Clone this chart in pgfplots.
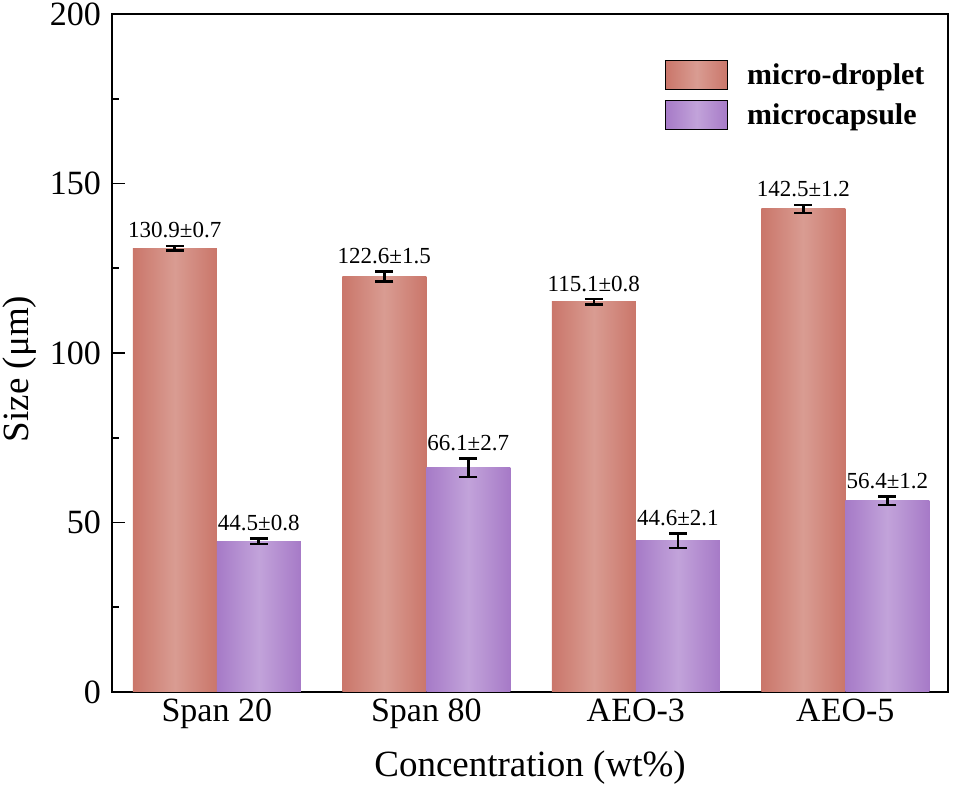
\documentclass[border=0pt]{standalone}
\usepackage{pgfplots}
\pgfplotsset{compat=1.18}
\usepackage{pgfplotstable}
\usepackage{fontspec}
\setmainfont{Liberation Serif}

\definecolor{salE}{RGB}{202,118,106}
\definecolor{salM}{RGB}{217,156,146}
\definecolor{purE}{RGB}{166,122,199}
\definecolor{purM}{RGB}{194,163,218}

% size (um) with standard deviation
\pgfplotstableread{
x y err lab
1 130.9 0.7 130.9±0.7
2 122.6 1.5 122.6±1.5
3 115.1 0.8 115.1±0.8
4 142.5 1.2 142.5±1.2
}\droplet
\pgfplotstableread{
x y err lab
1 44.5 0.8 44.5±0.8
2 66.1 2.7 66.1±2.7
3 44.6 2.1 44.6±2.1
4 56.4 1.2 56.4±1.2
}\capsule

\pgfplotsset{
  errbars/.style={error bars/.cd, y dir=both, y explicit,
    error bar style={draw=black, line width=1.3pt, shade=false},
    error mark options={draw=black, rotate=90, mark size=4.5pt, line width=1.3pt, shade=false},
    /pgfplots/.cd},
  dropbar/.style={draw=none, left color=salE, right color=salE, middle color=salM, bar shift=-21pt},
  capbar/.style={draw=none, left color=purE, right color=purE, middle color=purM, bar shift=21pt},
}

\begin{document}
\begin{tikzpicture}
\useasboundingbox (-56pt,-48pt) rectangle (421.5pt,346pt);
\begin{axis}[
    scale only axis,
    width=418pt, height=339pt,
    ybar, bar width=42pt,
    xmin=0.5, xmax=4.49,
    ymin=0, ymax=200,
    xtick={1,2,3,4},
    xticklabels={Span 20, Span 80, AEO-3, AEO-5},
    x tick style={draw=none},
    ytick={0,50,100,150,200},
    minor y tick num=1,
    ytick pos=left,
    tick align=inside,
    major tick length=6.5pt, minor tick length=3.5pt,
    axis line style={line width=1.1pt},
    y tick style={line width=0.9pt, black},
    /pgf/number format/assume math mode=true,
    tick label style={font=\fontsize{17}{20}\selectfont},
    yticklabel style={xshift=-2pt},
    xlabel={Concentration (wt\%)},
    ylabel={Size (μm)},
    xlabel style={font=\fontsize{18.5}{22}\selectfont, yshift=-4pt},
    ylabel style={font=\fontsize{18.5}{22}\selectfont, at={(rel axis cs:0,0.5)},
        anchor=center, yshift=46pt, xshift=-8pt},
    point meta=explicit symbolic,
    nodes near coords,
    visualization depends on={\thisrow{err} \as \myerr},
    every node near coord/.append style={shade=false, black, anchor=base,
        font=\fontsize{11.5}{13}\selectfont, yshift=\myerr*1.695pt+4pt},
    legend style={at={(rel axis cs:0.6543,0.938)}, anchor=north west, draw=none, fill=none,
        font=\fontsize{15}{18}\selectfont\bfseries, row sep=5pt,
        nodes={inner sep=0pt}, /tikz/every odd column/.append style={column sep=9.5pt}},
    legend cell align=left,
]
% one plot per bar so that each bar gets its own shading
\pgfplotsinvokeforeach{1,...,4}{
  \addplot[dropbar, forget plot, x filter/.expression={abs(x-#1)<0.1 ? x : nan}, errbars]
    table[x=x, y=y, y error=err, meta=lab] {\droplet};
  \addplot[capbar, forget plot, x filter/.expression={abs(x-#1)<0.1 ? x : nan}, errbars]
    table[x=x, y=y, y error=err, meta=lab] {\capsule};
}
\addlegendimage{legend image code/.code={\fill[left color=salE, right color=salE, middle color=salM] (0pt,-7.25pt) rectangle (31pt,7.25pt);}}
\addlegendentry{micro-droplet}
\addlegendimage{legend image code/.code={\fill[left color=purE, right color=purE, middle color=purM] (0pt,-7.25pt) rectangle (31pt,7.25pt);}}
\addlegendentry{microcapsule}
\end{axis}
\end{tikzpicture}
\end{document}
